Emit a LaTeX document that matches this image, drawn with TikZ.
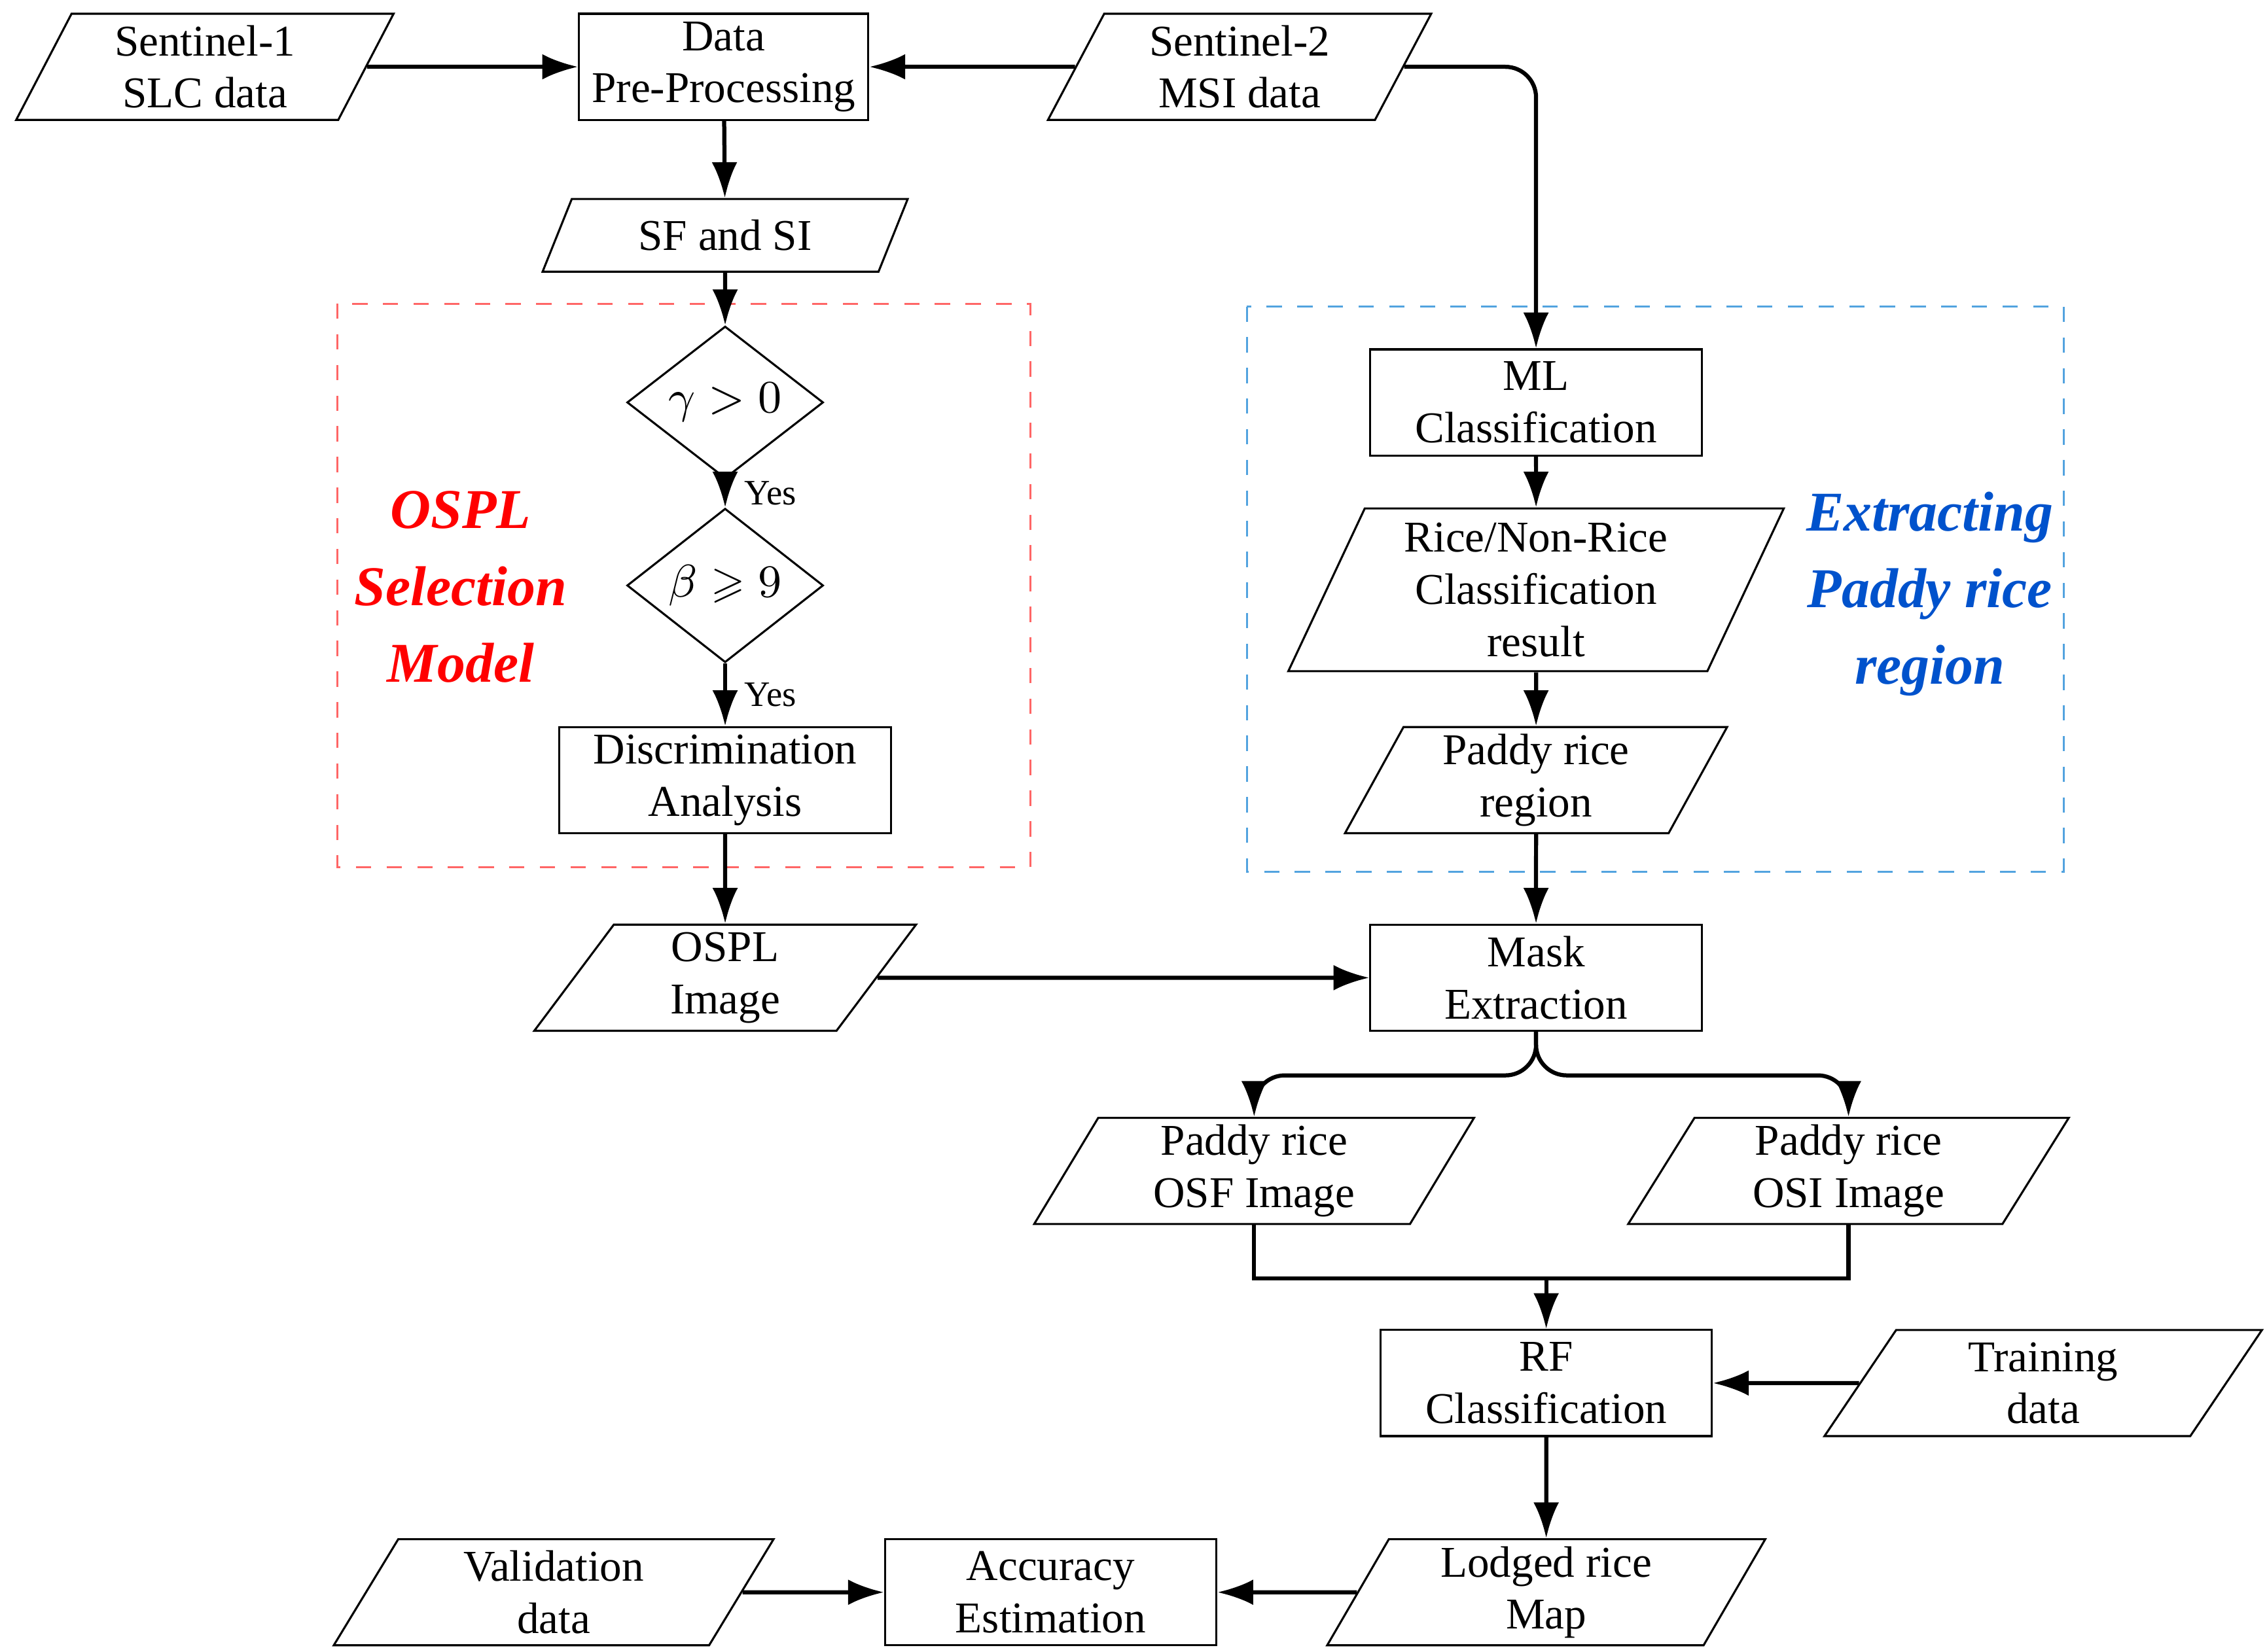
\documentclass[tikz,border=0pt]{standalone}
\usepackage{amssymb}
\usepackage{fontspec}
\setmainfont{Liberation Serif}
\usetikzlibrary{arrows.meta,shapes.geometric,positioning}
\tikzset{>={Latex[width=5pt,length=7pt]}}

\begin{document}
\begin{tikzpicture}[x=0.01cm,y=-0.01cm,
  font=\fontsize{8.6}{10.2}\selectfont,
  box/.style={draw,thin,align=center,minimum width=2.28cm,minimum height=0.73cm,inner sep=1pt},
  io/.style={draw,thin,align=center,trapezium,trapezium left angle=67,trapezium right angle=113,
    trapezium stretches=true,minimum width=#1,minimum height=0.73cm,inner sep=1pt},
  io/.default=2.63cm,
  dec/.style={draw,thin,diamond,minimum width=1.35cm,minimum height=0.74cm,inner sep=0pt},
  flow/.style={->,thick,rounded corners=6pt},
  yes/.style={font=\fontsize{7}{8}\selectfont,right}]
  \useasboundingbox (0,0) rectangle (1560,1137);

  % input data
  \node[io=2.6cm] (s1) at (141,46) {Sentinel-1\\SLC data};
  \node[box,minimum width=1.99cm] (pre) at (498,46) {Data\\Pre-Processing};
  \node[io=2.64cm] (s2) at (853,46) {Sentinel-2\\MSI data};
  \node[io=2.52cm,minimum height=0.5cm] (sfsi) at (499,162) {SF and SI};

  % OSPL selection
  \draw[red!60,dashed] (232,209) rectangle (709,597);
  \node[font=\fontsize{11}{15}\selectfont\bfseries\itshape,text=red,align=center] at (317,404) {OSPL\\Selection\\Model};
  \node[dec] (g) at (499,277) {$\gamma > 0$};
  \node[dec] (b) at (499,403) {$\beta \geqslant 9$};
  \node[box] (da) at (499,537) {Discrimination\\Analysis};
  \node[io] (ospl) at (499,673) {OSPL\\Image};

  % paddy rice region
  \draw[cyan!70!blue!70,dashed] (858,211) rectangle (1420,600);
  \node[font=\fontsize{11}{15}\selectfont\bfseries\itshape,text=blue!60!cyan!80!black,align=center] at (1328,409) {Extracting\\Paddy rice\\region};
  \node[box] (ml) at (1057,277) {ML\\Classification};
  \node[io=3.41cm,minimum height=1.12cm] (rnr) at (1057,406) {Rice/Non-Rice\\Classification\\result};
  \node[io] (prr) at (1057,537) {Paddy rice\\region};
  \node[box] (mask) at (1057,673) {Mask\\Extraction};

  % classification
  \node[io=3.03cm] (osf) at (863,806) {Paddy rice\\OSF Image};
  \node[io=3.03cm] (osi) at (1272,806) {Paddy rice\\OSI Image};
  \node[box] (rf) at (1064,952) {RF\\Classification};
  \node[io=3.02cm] (train) at (1406,952) {Training\\data};
  \node[io=3.03cm] (lod) at (1064,1096) {Lodged rice\\Map};
  \node[box] (acc) at (723,1096) {Accuracy\\Estimation};
  \node[io=3.03cm] (val) at (381,1096) {Validation\\data};

  \draw[flow] (s1) -- (pre);
  \draw[flow] (s2) -- (pre);
  \draw[flow] (s2.east) -| (ml);
  \draw[flow] (pre) -- (sfsi);
  \draw[flow] (sfsi) -- (g);
  \draw[flow] (g) -- node[yes]{Yes} (b);
  \draw[flow] (b) -- node[yes]{Yes} (da);
  \draw[flow] (da) -- (ospl);
  \draw[flow] (ospl) -- (mask);
  \draw[flow] (ml) -- (rnr);
  \draw[flow] (rnr) -- (prr);
  \draw[flow] (prr) -- (mask);
  \draw[flow] (mask.south) -- ++(0,30) -| (osf);
  \draw[flow] (mask.south) -- ++(0,30) -| (osi);
  \draw[thick] (osf.south) |- (1064,880);
  \draw[thick] (osi.south) |- (1064,880);
  \draw[flow] (1064,880) -- (rf);
  \draw[flow] (train) -- (rf);
  \draw[flow] (rf) -- (lod);
  \draw[flow] (lod) -- (acc);
  \draw[flow] (val) -- (acc);
\end{tikzpicture}
\end{document}
